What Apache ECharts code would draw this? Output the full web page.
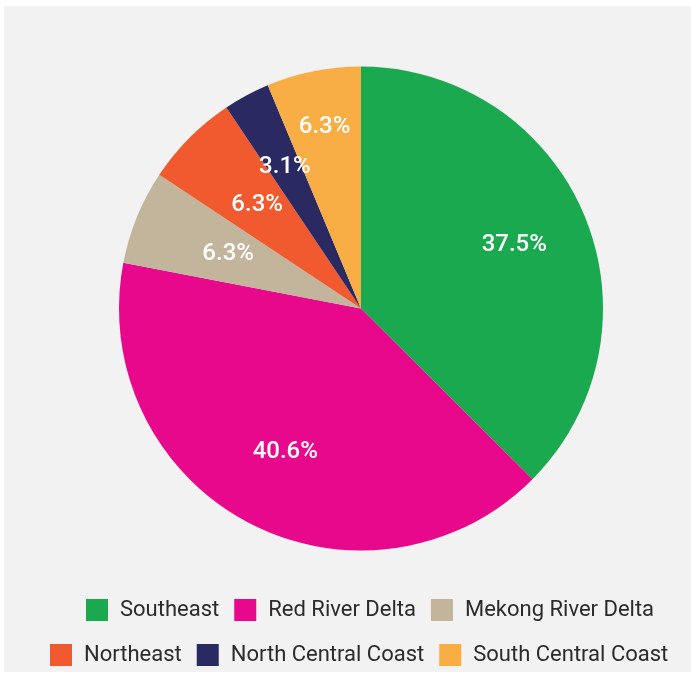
<!DOCTYPE html>
<html>
<head>
<meta charset="utf-8">
<title>Regional distribution</title>
<script src="https://cdn.jsdelivr.net/npm/echarts@6/dist/echarts.min.js"></script>
<style>
  html, body { margin: 0; padding: 0; background: #ffffff; }
  #chart { position: absolute; left: 4px; top: 6px; width: 687px; height: 666px; }
</style>
</head>
<body>
<div id="chart"></div>
<script>
// Regions, shares (%) and slice colours
const regions = ['Southeast', 'Red River Delta', 'Mekong River Delta', 'Northeast', 'North Central Coast', 'South Central Coast'];
const shares = [37.5, 40.6, 6.3, 6.3, 3.1, 6.3];
const colors = ['#1ba94f', '#e8088c', '#c2b59b', '#f05a2e', '#2a2961', '#f9ae45'];
const legendRow1 = ['Southeast', 'Red River Delta', 'Mekong River Delta'];
const legendRow2 = ['Northeast', 'North Central Coast', 'South Central Coast'];

// Pie geometry and how far out each percentage label sits along its slice bisector
const CX = 357, CY = 302.5, R = 242;
const labelRadius = [162, 158, 140, 143, 157, 181];

const chart = echarts.init(document.getElementById('chart'), null, { renderer: 'canvas' });

const legendBase = {
  orient: 'horizontal',
  icon: 'rect',
  padding: 0,
  itemWidth: 22,
  itemHeight: 22,
  itemGap: 15,
  selectedMode: false,
  textStyle: {
    fontFamily: 'Roboto',
    fontSize: 22,
    color: '#2b2b2b',
    padding: [0, 0, 0, 7]
  }
};

chart.setOption({
  backgroundColor: '#f2f2f2',
  color: colors,
  legend: [
    Object.assign({}, legendBase, { data: legendRow1, left: 82, top: 593 }),
    Object.assign({}, legendBase, { data: legendRow2, left: 46, top: 638 })
  ],
  series: [{
    type: 'pie',
    center: [CX, CY],
    radius: [0, R],
    startAngle: 90,
    clockwise: true,
    animation: false,
    silent: true,
    itemStyle: { borderWidth: 0 },
    label: {
      show: true,
      position: 'inside',
      color: '#ffffff',
      fontFamily: 'Roboto',
      fontSize: 24,
      fontWeight: 500,
      formatter: p => p.value.toFixed(1) + '%'
    },
    labelLine: { show: false },
    labelLayout: function (p) {
      // push the default inside label (at R/2 on the bisector) out to its own radius
      const r = p.labelRect;
      const lx = r.x + r.width / 2;
      const ly = r.y + r.height / 2;
      const k = labelRadius[p.dataIndex] / (R / 2);
      return { x: CX + (lx - CX) * k, y: CY + (ly - CY) * k };
    },
    data: regions.map((name, i) => ({ name: name, value: shares[i] }))
  }]
});
</script>
</body>
</html>
